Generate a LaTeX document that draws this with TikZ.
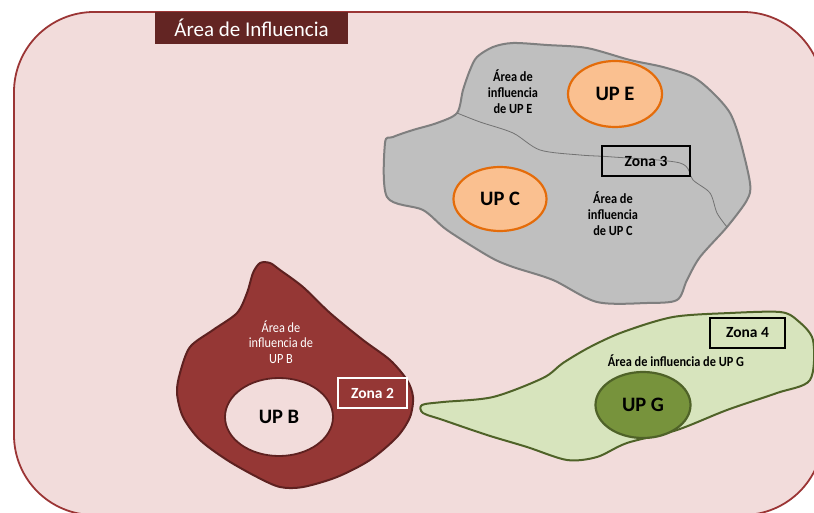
\documentclass[tikz,border=0pt]{standalone}
\usepackage{fontspec}
\setmainfont{Carlito}
\newfontfamily\narrowfam[FakeStretch=0.88]{Carlito}
\usetikzlibrary{shapes.geometric}
\definecolor{bgpink}{HTML}{F2DCDB}
\definecolor{bgborder}{HTML}{9B3535}
\definecolor{titlebg}{HTML}{632523}
\definecolor{grayfill}{HTML}{BFBFBF}
\definecolor{grayline}{HTML}{7F7F7F}
\definecolor{orfill}{HTML}{FAC090}
\definecolor{orline}{HTML}{E46C0A}
\definecolor{brfill}{HTML}{953735}
\definecolor{brline}{HTML}{5E2120}
\definecolor{grfill}{HTML}{D7E4BD}
\definecolor{grline}{HTML}{4F6228}
\definecolor{gdfill}{HTML}{77933C}
\tikzset{
  upell/.style={ellipse, draw, line width=2.2pt, inner sep=0pt, font=\fontsize{20.5}{22}\selectfont\bfseries},
  zonebox/.style={draw, line width=2pt, minimum width=#1, minimum height=30pt, inner sep=0pt, font=\fontsize{15.5}{18}\selectfont\bfseries},
  smalltxt/.style={align=center, font=\narrowfam\fontsize{14}{16}\selectfont\bfseries},
}
\begin{document}
\begin{tikzpicture}[x=1pt,y=-1pt]
\useasboundingbox (0,0) rectangle (814,513);
% background
\draw[fill=bgpink, draw=bgborder, line width=1.8pt, rounded corners=80pt] (14,12) rectangle (823,515);
% title
\node[fill=titlebg, text=white, minimum width=193pt, minimum height=32pt, inner sep=0pt, font=\fontsize{21}{24}\selectfont] (title) at (251.5,28) {Área de Influencia};

% gray region
\draw[fill=grayfill, draw=grayline, line width=2pt] plot[smooth cycle, tension=0.5] coordinates {
 (477,57) (493,47) (513,43) (547,45) (587,48) (630,60) (663,67) (693,77) (713,93) (730,113)
 (740,140) (750,183) (747,200) (727,227) (700,257) (687,280) (677,300) (647,303) (597,302)
 (553,280) (513,267) (490,257) (447,230) (423,210) (387,197) (385,143) (393,137) (413,130)
 (437,123) (457,113) (463,90) (470,70)};
\draw[draw=grayline!90!black, line width=0.8pt] plot[smooth, tension=0.5] coordinates {
 (457,113) (480,122) (513,133) (540,150) (580,155) (613,157) (680,163) (693,180) (710,193) (717,213) (727,227)};
\node[upell, fill=orfill, draw=orline, minimum width=94pt, minimum height=66pt] (upe) at (615,94) {UP E};
\node[upell, fill=orfill, draw=orline, minimum width=93pt, minimum height=64pt] (upc) at (500,199) {UP C};
\node[zonebox=88pt, draw=black] (z3) at (646,161.5) {Zona 3};
\node[smalltxt] (tE) at (513,92) {Área de\\influencia\\de UP E};
\node[smalltxt] (tC) at (613,214) {Área de\\influencia\\de UP C};

% brown region
\draw[fill=brfill, draw=brline, line width=2pt] plot[smooth cycle, tension=0.5] coordinates {
 (260,263) (253,273) (247,293) (237,313) (213,330) (190,347) (180,373) (177,393) (183,417)
 (200,440) (227,460) (257,477) (280,487) (303,487) (337,477) (370,460) (397,437) (410,417)
 (413,397) (407,380) (390,360) (363,340) (330,313) (303,287) (280,270) (270,263)};
\node[upell, fill=bgpink, draw=brline, line width=1.8pt, minimum width=108pt, minimum height=78pt] (upb) at (279,417) {UP B};
\node[zonebox=69pt, draw=white, text=white] (z2) at (372.5,393) {Zona 2};
\node[align=center, text=white, font=\narrowfam\fontsize{14}{15.5}\selectfont] (tB) at (281,342) {Área de\\influencia de\\UP B};

% green region
\draw[fill=grfill, draw=grline, line width=2pt] plot[smooth cycle, tension=0.5] coordinates {
 (422,405) (423,413) (443,420) (487,435) (527,447) (567,460) (597,457) (627,443) (677,430)
 (727,410) (777,393) (810,380) (813,340) (797,320) (780,312) (730,313) (673,317) (623,332)
 (590,347) (563,363) (543,378) (493,397) (443,402)};
\node[upell, fill=gdfill, draw=grline, minimum width=95pt, minimum height=66pt] (upg) at (643,405) {UP G};
\node[zonebox=75pt, draw=black] (z4) at (747.5,332.5) {Zona 4};
\node[smalltxt] (tG) at (676,361) {Área de influencia de UP G};
\end{tikzpicture}
\end{document}
